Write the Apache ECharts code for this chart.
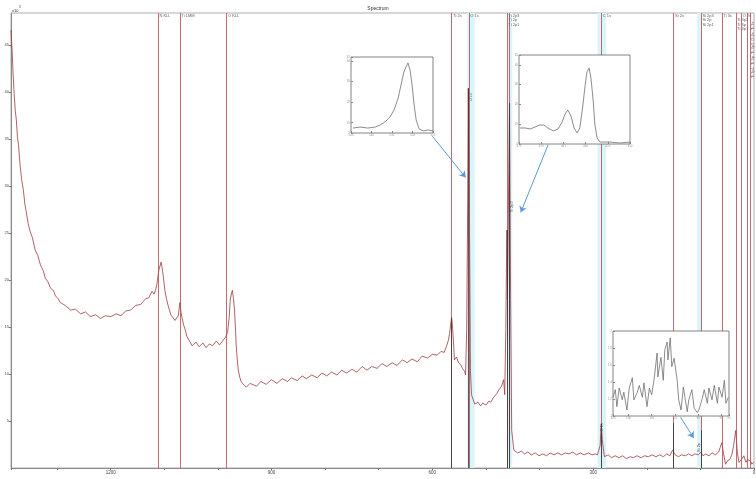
<!DOCTYPE html>
<html>
<head>
<meta charset="utf-8">
<script src="https://cdn.jsdelivr.net/npm/echarts@6/dist/echarts.min.js"></script>
<style>
html, body { margin: 0; padding: 0; background: #fff; }
#chart { width: 756px; height: 479px; }
</style>
</head>
<body>
<div id="chart"></div>
<script>
// survey spectrum, [binding energy (eV), counts (x10^3 CPS)]
const survey = [
	[1386,46.6],[1384,44.5],[1382,41.8],[1380,39.7],[1378,38.0],[1376,37.0],[1374,35.2],[1372,34.4],[1370,32.9],[1369,32.2],
	[1366,30.6],[1363,29.6],[1360,28.0],[1358,27.4],[1354,26.0],[1350,25.1],[1346,24.5],[1341,23.2],[1336,22.6],[1331,21.6],
	[1326,21.0],[1322,20.2],[1317,19.8],[1312,19.1],[1307,18.9],[1303,18.3],[1298,18.0],[1294,17.6],[1285,17.3],[1275,16.8],
	[1266,16.9],[1256,16.4],[1247,16.6],[1238,16.1],[1228,16.3],[1219,15.9],[1210,16.2],[1200,16.1],[1190,16.4],[1181,16.2],
	[1172,16.7],[1163,16.8],[1153,17.3],[1144,17.4],[1135,18.0],[1129,18.1],[1123,18.8],[1119,18.5],[1116,19.0],[1114,19.5],
	[1110,21.1],[1106,21.9],[1103,20.9],[1099,18.9],[1096,18.0],[1093,17.3],[1088,16.3],[1084,16.0],[1080,15.7],[1077,15.9],
	[1074,16.2],[1071,17.6],[1069,16.6],[1067,16.0],[1064,15.2],[1061,14.7],[1058,14.0],[1054,13.6],[1048,13.0],[1041,13.4],
	[1035,12.9],[1028,13.3],[1022,12.8],[1016,13.2],[1010,13.0],[1003,13.5],[997,13.1],[990,13.6],[986,13.9],[982,14.4],
	[979,16.0],[977,17.9],[975,18.5],[973,18.9],[971,18.0],[969,16.8],[967,14.5],[966,13.1],[964,11.6],[962,10.4],
	[959,9.6],[956,9.1],[947,8.6],[940,9.0],[928,8.7],[920,9.2],[910,8.9],[900,9.4],[890,9.0],[880,9.5],
	[870,9.2],[863,9.6],[852,9.3],[843,9.8],[835,9.5],[825,9.9],[815,9.6],[806,10.1],[797,9.8],[788,10.2],
	[778,9.9],[769,10.4],[760,10.1],[750,10.5],[741,10.2],[731,10.8],[722,10.4],[713,10.8],[703,10.6],[694,11.1],
	[685,10.8],[675,11.2],[666,10.9],[656,11.5],[647,11.2],[638,11.6],[628,11.3],[619,11.9],[609,11.7],[600,12.1],
	[591,12.0],[584,12.4],[578,12.3],[574,12.9],[570,13.6],[568,14.3],[566,15.2],[564,16.0],[562,14.7],[560,12.8],
	[559,11.5],[555,11.8],[551,11.2],[547,11.0],[544,10.6],[540,10.3],[538,9.9],[536,14.7],[534,28.5],[533,40.4],
	[531,28.5],[529,10.4],[527,7.8],[521,6.8],[515,7.0],[510,6.6],[506,6.9],[500,6.7],[495,7.1],[491,7.0],
	[486,7.5],[480,7.9],[476,8.3],[471,8.7],[467,9.4],[465,7.8],[463,14.7],[461,25.3],[460,17.9],[458,28.5],
	[456,38.8],[454,17.9],[452,4.0],[448,1.9],[441,1.6],[434,1.8],[428,1.5],[422,1.7],[415,1.4],[408,1.6],
	[401,1.3],[394,1.5],[387,1.3],[380,1.6],[373,1.4],[366,1.6],[359,1.4],[352,1.6],[345,1.5],[338,1.7],
	[331,1.4],[324,1.6],[317,1.4],[309,1.6],[302,1.4],[296,1.5],[292,1.4],[287,2.4],[285,4.7],[283,3.0],
	[279,1.2],[272,1.4],[266,1.1],[259,1.3],[252,1.1],[245,1.3],[238,1.0],[231,1.2],[225,1.1],[218,1.3],
	[211,1.1],[204,1.3],[197,1.2],[190,1.4],[183,1.2],[176,1.4],[169,1.2],[163,1.5],[157,1.3],[152,1.9],
	[150,2.0],[147,1.4],[141,1.2],[135,1.4],[128,1.3],[122,1.5],[116,1.3],[110,1.5],[104,1.4],[99,1.7],
	[95,1.3],[90,1.5],[84,1.3],[78,1.6],[72,1.4],[66,1.7],[63,2.2],[60,2.7],[57,1.6],[53,0.4],
	[49,0.8],[45,0.9],[41,1.5],[38,2.4],[34,4.0],[31,1.6],[28,0.6],[26,0.4],[22,1.0],[19,1.3],
	[15,0.6],[12,0.9],[9,1.1],[6,0.7],[4,0.4],[1,0.6]
];

// peak id markers
const markerEnergy = [1112, 1071, 984, 564, 532, 461, 456, 285, 150, 99, 60, 34, 24, 12, 7];
const markerNames = ['N KLL', 'Ti LMM', 'O KLL', 'Ti 2s', 'O 1s', 'Ti 2p3\nTi 2p\nTi 2p1', '', 'C 1s', 'Si 2s',
	'Si 2p3\nSi 2p\nSi 2p1', 'Ti 3s', '\nTi 3p3\nTi 3p\nTi 3p1', 'O 2s', '', ''];

// fitted peak positions and heights
const fittedPeaks = [[564, 16.0], [533, 40.4], [461, 25.3], [456, 38.8], [285, 4.7], [150, 4.8], [99, 4.0]];

// shaded regions
const regions = [[535, 521], [460, 451], [292, 276], [106, 97]];

// rotated peak tags
const peakTags = [[529, 39.0, 'O 1s'], [451.5, 27.2, 'Ti 2p3'], [283, 3.9, 'C 1s'], [103, 1.7, 'Si 2p']];

// arrows from insets to peaks
const arrows = [[[600, 35.3], [538, 30.9]], [[384, 34.4], [435, 27.2]], [[137, 5.4], [112.5, 3.2]]];

// inset: O 1s
const o1sInset = [
	[544.5,7.4],[542.8,7.9],[540.9,7.4],[539.1,7.9],[537.9,8.9],[536.7,10.4],[535.5,12.8],[534.5,16.2],[533.5,22.0],
	[532.8,28.4],[532.1,34.7],[531.6,37.1],[531.1,39.1],[530.6,35.7],[530.1,28.4],[529.6,18.6],[529.1,11.3],[528.4,7.0],
	[527.4,6.0],[526.2,6.5],[525.0,6.0]
];
// inset: Ti 2p
const ti2pInset = [
	[474.8,8.1],[473.6,8.1],[472.5,7.6],[471.4,8.6],[470.3,9.6],[469.4,9.6],[468.5,8.1],[467.3,6.6],[466.2,7.6],
	[465.3,11.1],[464.6,15.2],[464.0,17.2],[463.3,14.2],[462.6,8.1],[461.9,5.6],[461.3,8.1],[460.6,19.7],[460.1,29.8],
	[459.7,36.4],[459.2,38.4],[458.8,33.4],[458.3,22.2],[457.9,9.6],[457.4,3.0],[456.8,1.0],[454.5,1.0],[452.3,0.5],[450.0,1.0]
];
// inset: Si 2p
const si2pInset = [
	[110.0,1.22],[109.7,1.31],[109.5,1.11],[109.2,1.33],[108.8,1.19],[108.6,1.28],[108.2,1.07],[107.9,1.33],[107.5,1.45],
	[107.3,1.19],[106.9,1.27],[106.6,1.36],[106.2,1.22],[106.0,1.39],[105.6,1.11],[105.3,1.33],[105.0,1.25],[104.7,1.42],
	[104.3,1.74],[104.2,1.46],[103.8,1.69],[103.5,1.42],[103.3,1.78],[103.0,1.87],[102.9,1.66],[102.6,1.92],[102.4,1.58],
	[102.1,1.68],[101.7,1.42],[101.5,1.19],[101.2,1.07],[100.9,1.34],[100.7,1.22],[100.4,1.05],[100.2,1.19],[99.8,1.31],
	[99.5,1.09],[99.1,1.04],[98.9,1.07],[98.5,1.19],[98.2,1.31],[97.8,1.15],[97.6,1.33],[97.2,1.19],[96.9,1.36],
	[96.5,1.15],[96.3,1.34],[95.9,1.22],[95.6,1.42],[95.4,1.15],[95.1,1.22]
];

const Y_MAX = 48.4;
const RED = '#b5464e';

const chart = echarts.init( document.getElementById( 'chart' ), null, { renderer: 'canvas' } );

// red id lines (default style), dark fit lines, blue arrows
const markLines = markerEnergy.map( ( e ) => ( { xAxis: e } ) );
fittedPeaks.forEach( ( p ) => markLines.push( [
	{ coord: [ p[ 0 ], 0 ], lineStyle: { color: '#333', width: 0.8 } },
	{ coord: [ p[ 0 ], p[ 1 ] ] }
] ) );
arrows.forEach( ( a ) => markLines.push( [
	{ coord: a[ 0 ], symbol: 'none', lineStyle: { color: '#5b9bd5', width: 1 } },
	{ coord: a[ 1 ], symbol: 'arrow', symbolSize: 6 }
] ) );

function insetAxes( idx, xmin, xmax, ymin, ymax ) {
	const common = {
		gridIndex: idx,
		type: 'value',
		z: 12,
		axisLine: { show: false, onZero: false },
		axisTick: { inside: true, length: 2, lineStyle: { color: '#888' } },
		axisLabel: { fontSize: 3, color: '#999', margin: 1 },
		splitLine: { show: false }
	};
	return {
		x: Object.assign( {}, common, { inverse: true, min: xmin, max: xmax, splitNumber: 4 } ),
		y: Object.assign( {}, common, { min: ymin, max: ymax, splitNumber: 5 } )
	};
}
const in1 = insetAxes( 1, 525, 545, 5, 42 );
const in2 = insetAxes( 2, 450, 475, 0, 45 );
const in3 = insetAxes( 3, 95, 110, 1, 2 );

function insetSeries( idx, data, lines ) {
	return {
		type: 'line',
		xAxisIndex: idx,
		yAxisIndex: idx,
		data: data,
		showSymbol: false,
		z: 12,
		lineStyle: { color: '#6e6e6e', width: 0.8 },
		markLine: {
			silent: true,
			symbol: [ 'none', 'none' ],
			label: { show: false },
			animation: false,
			lineStyle: { color: '#333', width: 0.8, type: 'solid' },
			data: lines
		}
	};
}

const insetGrid = { show: true, backgroundColor: '#fff', borderColor: '#666', borderWidth: 0.8, z: 10, outerBoundsMode: 'none', containLabel: false };

const option = {
	animation: false,
	backgroundColor: '#fff',
	title: {
		text: 'Spectrum',
		left: 'center',
		top: 1,
		textStyle: { fontSize: 5, fontWeight: 'normal', color: '#333' }
	},
	grid: [
		{ left: 11, right: 2, top: 13, bottom: 11, show: true, borderColor: '#999', borderWidth: 0.8, outerBoundsMode: 'none', containLabel: false },
		Object.assign( { left: 351, top: 57, width: 82, height: 76 }, insetGrid ),
		Object.assign( { left: 519, top: 55, width: 111, height: 89 }, insetGrid ),
		Object.assign( { left: 613, top: 331, width: 116, height: 85 }, insetGrid )
	],
	xAxis: [
		{
			gridIndex: 0,
			type: 'value',
			inverse: true,
			min: 0,
			max: 1386,
			interval: 300,
			name: 'Binding Energy (eV)',
			nameLocation: 'middle',
			nameGap: 8,
			nameTextStyle: { fontSize: 5, color: '#333' },
			axisLine: { onZero: false, lineStyle: { color: '#777', width: 0.8 } },
			axisTick: { length: 2, lineStyle: { color: '#777' } },
			minorTick: { show: true, splitNumber: 3, length: 2, lineStyle: { color: '#777' } },
			axisLabel: { fontSize: 4.5, color: '#444', margin: 2, showMaxLabel: false, formatter: ( v ) => String( v ) },
			splitLine: { show: false }
		},
		in1.x, in2.x, in3.x
	],
	yAxis: [
		{
			gridIndex: 0,
			type: 'value',
			min: 0,
			max: Y_MAX,
			interval: 5,
			name: 'CPS',
			nameLocation: 'middle',
			nameGap: 5,
			nameRotate: 90,
			nameTextStyle: { fontSize: 4, color: '#333' },
			axisLine: { show: true, onZero: false, lineStyle: { color: '#777', width: 0.8 } },
			axisTick: { show: true, length: 2, lineStyle: { color: '#777' } },
			axisLabel: { fontSize: 4, color: '#444', margin: 2, showMinLabel: false, showMaxLabel: false },
			splitLine: { show: false }
		},
		in1.y, in2.y, in3.y
	],
	series: [
		{
			name: 'Survey',
			type: 'line',
			data: survey,
			showSymbol: false,
			z: 3,
			lineStyle: { color: '#9e3a40', width: 0.8 },
			markArea: {
				silent: true,
				itemStyle: { color: '#d9f5fa' },
				data: regions.map( ( r ) => [ { xAxis: r[ 0 ] }, { xAxis: r[ 1 ] } ] )
			},
			markLine: {
				silent: true,
				symbol: [ 'none', 'none' ],
				label: { show: false },
				animation: false,
				lineStyle: { type: 'solid', color: RED, width: 0.8 },
				data: markLines
			}
		},
		{
			name: 'Markers',
			type: 'scatter',
			data: markerEnergy.map( ( e, i ) => ( { value: [ e, Y_MAX ], name: markerNames[ i ] } ) ),
			symbolSize: 1,
			itemStyle: { color: 'rgba(0,0,0,0)' },
			z: 4,
			label: {
				show: true,
				position: [ 2, 1 ],
				formatter: ( p ) => p.name,
				fontSize: 4,
				lineHeight: 4.5,
				color: '#333'
			}
		},
		{
			name: 'Peak tags',
			type: 'scatter',
			data: peakTags.map( ( t ) => ( { value: [ t[ 0 ], t[ 1 ] ], name: t[ 2 ] } ) ),
			symbolSize: 1,
			itemStyle: { color: 'rgba(0,0,0,0)' },
			z: 4,
			label: {
				show: true,
				position: 'inside',
				rotate: 90,
				align: 'left',
				verticalAlign: 'middle',
				formatter: ( p ) => p.name,
				fontSize: 4,
				color: '#333'
			}
		},
		insetSeries( 1, o1sInset, [ { xAxis: 536.7 } ] ),
		insetSeries( 2, ti2pInset, [
			{ xAxis: 457.2 },
			[ { coord: [ 461.9, 0 ] }, { coord: [ 461.9, 11 ] } ],
			[ { coord: [ 461.9, 41 ] }, { coord: [ 461.9, 45 ] } ]
		] ),
		insetSeries( 3, si2pInset, [
			{ xAxis: 100.4 },
			[ { coord: [ 101.3, 1.88 ] }, { coord: [ 101.3, 2 ] } ]
		] )
	],
	graphic: [
		{ type: 'text', left: 12, top: 9, style: { text: 'x10', fontSize: 4, fill: '#333' } },
		{ type: 'text', left: 19, top: 6, style: { text: '3', fontSize: 3, fill: '#333' } },
		{
			type: 'text', x: 751, y: 78, rotation: Math.PI / 2,
			style: { text: 'Ti 3p1  Ti 3p  Ti 3p3  O 2s  Ti 3s', fontSize: 4, fill: '#555' }
		}
	]
};

chart.setOption( option );
</script>
</body>
</html>
